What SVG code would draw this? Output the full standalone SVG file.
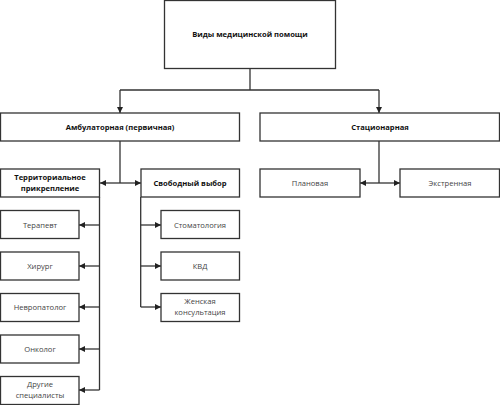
<svg xmlns="http://www.w3.org/2000/svg" width="500" height="405" viewBox="0 0 500 405">
<defs>
<marker id="ah" viewBox="0 0 10 10" refX="10" refY="5" markerWidth="8" markerHeight="6" markerUnits="userSpaceOnUse" orient="auto">
<path d="M0,0 L10,5 L0,10 z" fill="#222"/>
</marker>
</defs>
<style>
.box{fill:#fff;stroke:#333;stroke-width:1.3}
.b{font-family:"Open Sans","Noto Sans",sans-serif;font-size:7.6px;font-weight:bold;fill:#111;text-anchor:middle}
.r{font-family:"Open Sans","Noto Sans",sans-serif;font-size:7.6px;fill:#444;text-anchor:middle}
.ln{fill:none;stroke:#333;stroke-width:1.3}
.ar{fill:none;stroke:#333;stroke-width:1.3;marker-end:url(#ah)}
</style>
<rect width="500" height="405" fill="#fff"/>
<g id="connectors">
<path class="ln" d="M250,68 V90 M120,90 H379"/>
<path class="ar" d="M120,90 V113"/>
<path class="ar" d="M379,90 V113"/>
<path class="ln" d="M120,141 V183"/>
<path class="ar" d="M120,183 H100"/>
<path class="ar" d="M120,183 H141"/>
<path class="ln" d="M379,141 V183"/>
<path class="ar" d="M379,183 H360"/>
<path class="ar" d="M379,183 H400"/>
<path class="ln" d="M99.5,197 V390"/>
<path class="ar" d="M99.5,225 H79"/>
<path class="ar" d="M99.5,266 H79"/>
<path class="ar" d="M99.5,307 H79"/>
<path class="ar" d="M99.5,349 H79"/>
<path class="ar" d="M99.5,390 H79"/>
<path class="ln" d="M140.7,197 V307"/>
<path class="ar" d="M140.7,225 H161"/>
<path class="ar" d="M140.7,266 H161"/>
<path class="ar" d="M140.7,307 H161"/>
</g>
<g id="n-root"><rect class="box" x="164.5" y="0.5" width="171" height="68"/><text class="b" x="250" y="37">Виды медицинской помощи</text></g>
<g id="n-amb"><rect class="box" x="0.5" y="113" width="239" height="28"/><text class="b" x="120" y="130">Амбулаторная (первичная)</text></g>
<g id="n-stac"><rect class="box" x="260" y="113" width="239.5" height="28"/><text class="b" x="380" y="130">Стационарная</text></g>
<g id="n-terr"><rect class="box" x="0.5" y="169" width="99" height="28"/><text class="b" x="50" y="180">Территориальное</text><text class="b" x="50" y="191">прикрепление</text></g>
<g id="n-svob"><rect class="box" x="141" y="169" width="98.5" height="28"/><text class="b" x="190" y="186">Свободный выбор</text></g>
<g id="n-plan"><rect class="box" x="260" y="169" width="100" height="28"/><text class="r" x="310" y="186">Плановая</text></g>
<g id="n-ekst"><rect class="box" x="400" y="169" width="99.5" height="28"/><text class="r" x="450" y="186">Экстренная</text></g>
<g id="n-ter"><rect class="box" x="0.5" y="210.5" width="78.5" height="28"/><text class="r" x="40" y="228">Терапевт</text></g>
<g id="n-hir"><rect class="box" x="0.5" y="252" width="78.5" height="28"/><text class="r" x="40" y="269">Хирург</text></g>
<g id="n-nev"><rect class="box" x="0.5" y="293.5" width="78.5" height="28"/><text class="r" x="40" y="310">Невропатолог</text></g>
<g id="n-onk"><rect class="box" x="0.5" y="335" width="78.5" height="28"/><text class="r" x="40" y="352">Онколог</text></g>
<g id="n-dr"><rect class="box" x="0.5" y="376.5" width="78.5" height="28"/><text class="r" x="40" y="387">Другие</text><text class="r" x="40" y="398">специалисты</text></g>
<g id="n-stom"><rect class="box" x="161" y="210.5" width="78.5" height="28"/><text class="r" x="200" y="228">Стоматология</text></g>
<g id="n-kvd"><rect class="box" x="161" y="252" width="78.5" height="28"/><text class="r" x="200" y="269">КВД</text></g>
<g id="n-zh"><rect class="box" x="161" y="293.5" width="78.5" height="28"/><text class="r" x="200" y="304">Женская</text><text class="r" x="200" y="315">консультация</text></g>
</svg>
